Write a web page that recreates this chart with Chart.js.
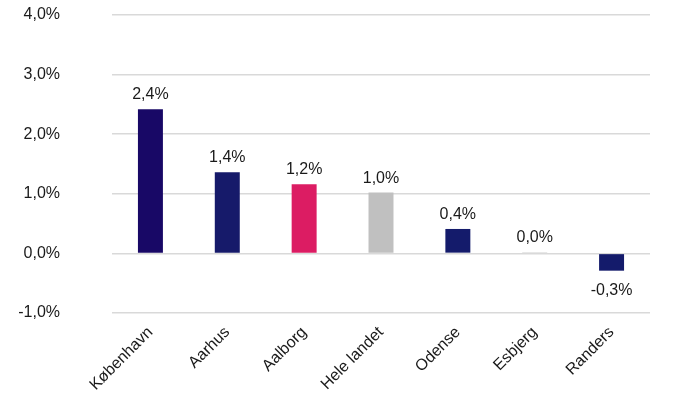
<!DOCTYPE html>
<html>
<head>
<meta charset="utf-8">
<script src="https://cdn.jsdelivr.net/npm/chart.js@4"></script>
<style>
  html, body { margin: 0; padding: 0; background: #fff; }
  #wrap { width: 700px; height: 393px; }
</style>
</head>
<body>
<div id="wrap"><canvas id="chart" width="700" height="393"></canvas></div>
<script>
// Data
const cities = ['København', 'Aarhus', 'Aalborg', 'Hele landet', 'Odense', 'Esbjerg', 'Randers'];
const growth = [2.42, 1.36, 1.16, 1.02, 0.41, 0.02, -0.29];
const barColors = ['#180866', '#161A6A', '#DC1C63', '#C0C0C0', '#141B6B', '#C8C8C8', '#141B6B'];
const yTicks = [-1, 0, 1, 2, 3, 4];

const fmt = v => v.toFixed(1).replace('.', ',') + '%';
const fontFamily = "'Liberation Sans', Arial, sans-serif";

// Draws the value labels above (or below) each bar
const valueLabels = {
  id: 'valueLabels',
  afterDatasetsDraw(chart) {
    const ctx = chart.ctx;
    const meta = chart.getDatasetMeta(0);
    ctx.save();
    ctx.font = '16px ' + fontFamily;
    ctx.fillStyle = '#1a1a1a';
    ctx.textAlign = 'center';
    ctx.textBaseline = 'alphabetic';
    meta.data.forEach((bar, i) => {
      const v = growth[i];
      if (v >= 0) {
        ctx.fillText(fmt(Math.round(v * 10) / 10), bar.x, bar.y - 10);
      } else {
        ctx.fillText(fmt(Math.round(v * 10) / 10), bar.x, bar.y + 24);
      }
    });
    ctx.restore();
  }
};

new Chart(document.getElementById('chart'), {
  type: 'bar',
  data: {
    labels: cities,
    datasets: [{
      data: growth,
      backgroundColor: barColors,
      borderWidth: 0,
      barPercentage: 0.65,
      categoryPercentage: 0.5
    }]
  },
  options: {
    responsive: false,
    animation: false,
    layout: { autoPadding: false, padding: { top: 15, right: 50, bottom: 0, left: 0 } },
    plugins: {
      legend: { display: false },
      tooltip: { enabled: false }
    },
    scales: {
      y: {
        min: -1,
        max: 4,
        afterFit(axis) {
          axis.width = 112;
          // the big label gap should not push the plot down
          axis.paddingTop = 0;
          axis.paddingBottom = 0;
        },
        afterBuildTicks(axis) { axis.ticks = yTicks.map(v => ({ value: v })); },
        border: { display: false },
        grid: { color: '#D9D9D9', lineWidth: 1.5, drawTicks: false },
        ticks: {
          padding: 52,
          color: '#1a1a1a',
          font: { family: fontFamily, size: 16 },
          callback: v => fmt(v)
        }
      },
      x: {
        afterFit(axis) { axis.height = 80; },
        border: { display: false },
        grid: { display: false, drawTicks: false },
        ticks: {
          minRotation: 45,
          maxRotation: 45,
          padding: 10,
          color: '#1a1a1a',
          font: { family: fontFamily, size: 16 }
        }
      }
    }
  },
  plugins: [valueLabels]
});
</script>
</body>
</html>
